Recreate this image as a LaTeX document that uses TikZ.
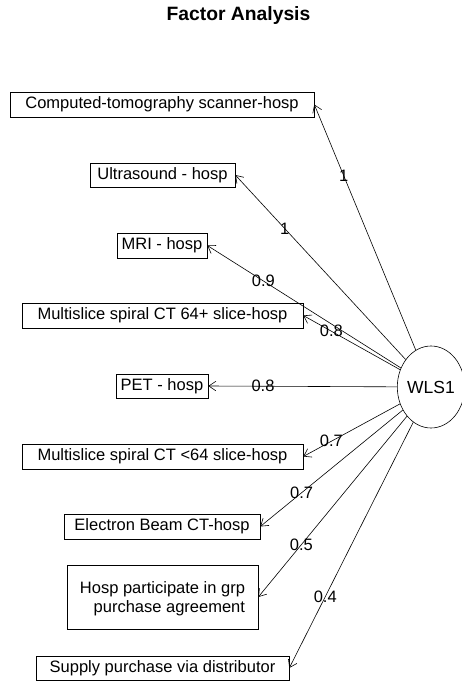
\documentclass[tikz,border=0pt]{standalone}
\usepackage{fontspec}
\setmainfont{Liberation Sans}
\usetikzlibrary{arrows.meta,shapes.geometric}
\begin{document}
\begin{tikzpicture}[x=1pt,y=-1pt,
  box/.style={draw, line width=0.6pt, inner sep=0pt, font=\fontsize{16.5}{19}\selectfont},
  lat/.style={draw, ellipse, line width=0.6pt, inner sep=0pt, minimum width=61pt, minimum height=82pt, font=\fontsize{17.5}{20}\selectfont},
  load/.style={line width=0.6pt, -{Straight Barb[length=7pt,width=9.5pt]}},
  lbl/.style={pos=0.71, inner sep=0pt, font=\fontsize{16.5}{19}\selectfont}]
\useasboundingbox (0,0) rectangle (462,684);
\node[font=\bfseries\fontsize{19.3}{22}\selectfont] (title) at (238.5,16) {Factor Analysis};
\node[box, minimum width=304pt, minimum height=25pt] (comp) at (162,104.5) {Computed-tomography scanner-hosp};
\node[box, minimum width=145pt, minimum height=24pt] (ultra) at (162.5,175) {Ultrasound - hosp};
\node[box, minimum width=90pt, minimum height=25pt] (mri) at (162,245.5) {MRI - hosp};
\node[box, minimum width=281pt, minimum height=25pt] (msp) at (162.5,315.5) {Multislice spiral CT 64+ slice-hosp};
\node[box, minimum width=92pt, minimum height=24pt] (pet) at (162,386) {PET - hosp};
\node[box, minimum width=281pt, minimum height=25pt] (msm) at (162.5,456.5) {Multislice spiral CT <64 slice-hosp};
\node[box, minimum width=196pt, minimum height=25pt] (ebct) at (162,526.5) {Electron Beam CT-hosp};
\node[box, minimum width=191pt, minimum height=64pt, align=right, text depth=0pt] (hosp) at (162.5,597) {Hosp participate in grp\\purchase agreement};
\node[box, minimum width=253pt, minimum height=24pt] (supply) at (162.5,668) {Supply purchase via distributor};
\node[lat] (wls) at (431,387) {WLS1};
\draw[load] (wls) -- node[lbl]{1} (comp.east);
\draw[load] (wls) -- node[lbl]{1} (ultra.east);
\draw[load] (wls) -- node[lbl]{0.9} (mri.east);
\draw[load] (wls) -- node[lbl]{0.8} (msp.east);
\draw[load] (wls) -- node[lbl]{0.8} (pet.east);
\draw[load] (wls) -- node[lbl]{0.7} (msm.east);
\draw[load] (wls) -- node[lbl]{0.7} (ebct.east);
\draw[load] (wls) -- node[lbl]{0.5} (hosp.east);
\draw[load] (wls) -- node[lbl]{0.4} (supply.east);
\end{tikzpicture}
\end{document}
